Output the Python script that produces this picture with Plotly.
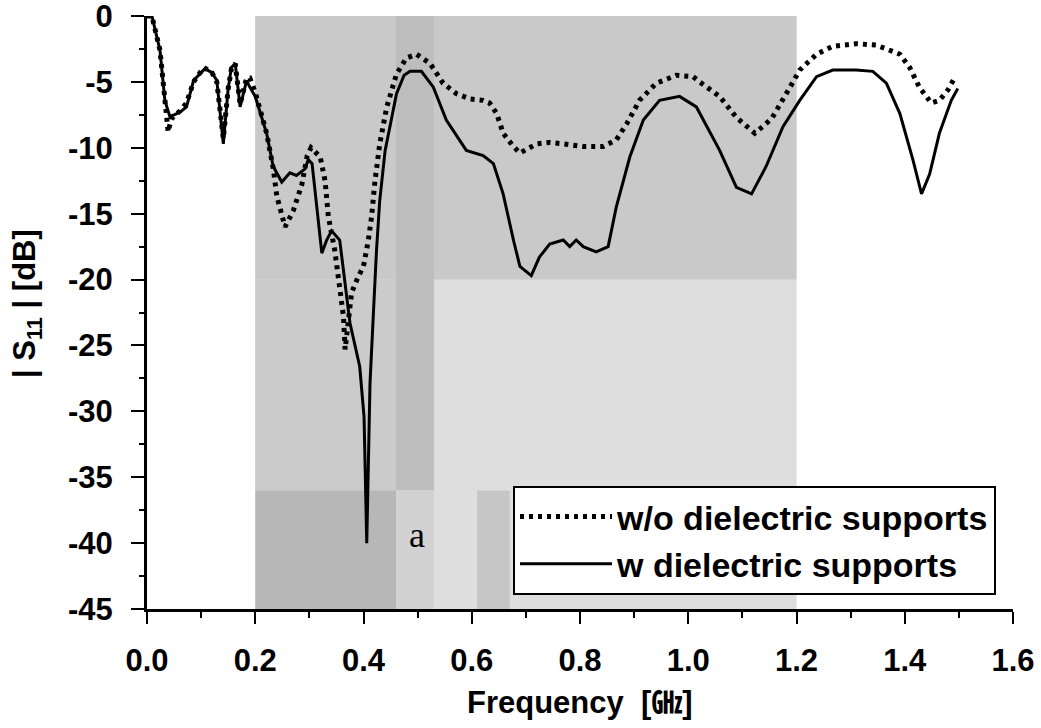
import plotly.graph_objects as go

# ---- data ----
freq_wo = [0.0, 0.009, 0.024, 0.033, 0.039, 0.045, 0.061, 0.073, 0.086, 0.105, 0.12, 0.129, 0.141, 0.150,
           0.156, 0.163, 0.172, 0.184, 0.19, 0.2, 0.221, 0.233, 0.24, 0.255, 0.27, 0.286, 0.296, 0.303,
           0.32, 0.329, 0.335, 0.347, 0.356, 0.363, 0.366, 0.372, 0.378, 0.39, 0.4, 0.409, 0.415, 0.421,
           0.43, 0.443, 0.461, 0.479, 0.498, 0.523, 0.547, 0.572, 0.597, 0.621, 0.633, 0.646, 0.658,
           0.677, 0.689, 0.72, 0.744, 0.769, 0.806, 0.843, 0.867, 0.886, 0.91, 0.941, 0.978, 1.009,
           1.021, 1.058, 1.089, 1.123, 1.154, 1.181, 1.206, 1.237, 1.267, 1.31, 1.347, 1.372, 1.391,
           1.409, 1.427, 1.449, 1.464, 1.48, 1.492]
s11_wo = [0.0, 0.0, -2.6, -6.6, -8.8, -7.8, -7.2, -6.6, -5.0, -3.9, -4.3, -5.0, -9.3, -5.5,
          -4.0, -3.6, -6.7, -4.7, -4.7, -5.8, -8.9, -11.5, -13.7, -16.0, -14.8, -12.8, -10.6, -10.0,
          -10.7, -12.5, -15.2, -17.8, -20.3, -22.8, -25.3, -23.0, -21.0, -19.8, -19.0, -17.0, -15.2, -12.6,
          -9.7, -6.9, -4.4, -3.2, -2.9, -3.6, -5.1, -5.9, -6.3, -6.4, -6.6, -7.4, -8.9,
          -9.9, -10.4, -9.7, -9.6, -9.7, -9.9, -9.9, -9.4, -8.2, -6.4, -5.1, -4.5, -4.6,
          -5.0, -6.1, -7.7, -8.9, -7.8, -5.9, -4.1, -2.9, -2.3, -2.1, -2.2, -2.6, -2.9,
          -3.9, -5.4, -6.6, -6.4, -5.6, -4.7]

freq_w = [0.0, 0.009, 0.024, 0.033, 0.042, 0.05, 0.061, 0.073, 0.086, 0.107, 0.12, 0.129, 0.141, 0.150,
          0.156, 0.163, 0.172, 0.184, 0.19, 0.2, 0.221, 0.233, 0.249, 0.264, 0.276, 0.292, 0.298,
          0.305, 0.323, 0.332, 0.341, 0.356, 0.375, 0.393, 0.401, 0.404, 0.406, 0.409, 0.412, 0.418,
          0.424, 0.43, 0.44, 0.461, 0.475, 0.486, 0.507, 0.529, 0.553, 0.59, 0.621, 0.64, 0.658,
          0.677, 0.689, 0.71, 0.725, 0.744, 0.769, 0.781, 0.793, 0.806, 0.83, 0.852, 0.867, 0.892,
          0.917, 0.947, 0.984, 1.015, 1.058, 1.089, 1.117, 1.144, 1.175, 1.206, 1.237, 1.267, 1.31,
          1.341, 1.366, 1.391, 1.415, 1.431, 1.446, 1.464, 1.486, 1.498]
s11_w = [0.0, 0.0, -2.6, -6.4, -7.6, -7.5, -7.3, -6.9, -4.9, -4.0, -4.3, -4.9, -9.7, -5.5,
         -3.9, -3.6, -6.9, -4.9, -5.4, -6.1, -8.9, -11.4, -12.6, -11.9, -12.1, -11.6, -10.9,
         -11.2, -18.0, -17.0, -16.3, -17.0, -23.3, -26.6, -30.4, -36.0, -40.0, -34.0, -27.9, -22.8,
         -17.8, -14.0, -10.2, -5.9, -4.5, -4.2, -4.2, -5.4, -7.9, -10.2, -10.6, -11.2, -13.5,
         -17.0, -19.0, -19.7, -18.3, -17.3, -17.0, -17.5, -17.0, -17.5, -17.9, -17.5, -14.5, -10.7,
         -7.9, -6.4, -6.1, -6.9, -10.2, -13.0, -13.5, -11.4, -8.4, -6.4, -4.6, -4.1, -4.1,
         -4.2, -5.1, -7.4, -10.9, -13.5, -12.0, -8.9, -6.4, -5.5]

series_names = ["w/o dielectric supports", "w dielectric supports"]
y_ticks = [0, -5, -10, -15, -20, -25, -30, -35, -40, -45]
y_ticktext = ["0", "-5", "-10", "-15", "-20", "-25", "-30", "-35", "-40", "-45"]
x_ticks = [0.0, 0.2, 0.4, 0.6, 0.8, 1.0, 1.2, 1.4, 1.6]
x_ticktext = ["0.0", "0.2", "0.4", "0.6", "0.8", "1.0", "1.2", "1.4", "1.6"]

FONT = "Liberation Sans, Arial, Noto Sans CJK JP, sans-serif"

fig = go.Figure()
fig.add_trace(go.Scatter(x=freq_wo, y=s11_wo, mode="lines", name=series_names[0],
                         line=dict(color="black", width=5, dash="4px,5px")))
fig.add_trace(go.Scatter(x=freq_w, y=s11_w, mode="lines", name=series_names[1],
                         line=dict(color="black", width=3)))

# background shading (grey regions of the scanned figure)
def rect(x0, x1, y0, y1, color):
    fig.add_shape(type="rect", xref="x", yref="y", x0=x0, x1=x1, y0=y0, y1=y1,
                  fillcolor=color, line=dict(width=0), layer="below")

rect(0.2, 1.2, -45, 0, "#dedede")
rect(0.2, 1.2, -20, 0, "#c9c9c9")
rect(0.2, 0.46, -36, -20, "#cbcbcb")
rect(0.2, 0.46, -45, -36, "#b7b7b7")
rect(0.46, 0.53, -36, 0, "#bdbdbd")
rect(0.46, 0.53, -45, -36, "#d2d2d2")
rect(0.61, 0.67, -45, -36, "#c6c6c6")

fig.add_annotation(x=0.498, y=-39.4, xref="x", yref="y", text="a", showarrow=False,
                   font=dict(family="Liberation Serif, Times New Roman, serif", size=36, color="black"))

# plot area in pixels, used to place the two axis titles
PL, PR, PT, PB = 147, 1013, 16, 609
def px_x(px):
    return (px - PL) / (PR - PL)
def px_y(py):
    return (PB - py) / (PB - PT)

fig.add_annotation(x=px_x(580), y=px_y(703), xref="paper", yref="paper", text="Frequency  [㎓]",
                   xanchor="center", yanchor="middle", showarrow=False,
                   font=dict(family=FONT, size=31, color="black", weight="bold"))
fig.add_annotation(x=px_x(27), y=px_y(304), xref="paper", yref="paper", text="| S<sub>11</sub> | [dB]",
                   xanchor="center", yanchor="middle", textangle=-90, showarrow=False,
                   font=dict(family=FONT, size=31, color="black", weight="bold"))

fig.update_layout(
    width=1041, height=728,
    margin=dict(l=PL, r=1041 - PR, t=PT, b=728 - PB, autoexpand=False),
    paper_bgcolor="white", plot_bgcolor="white",
    font=dict(family=FONT, color="black"),
    showlegend=True,
    legend=dict(x=px_x(513), y=px_y(486), xanchor="left", yanchor="top",
                bgcolor="white", bordercolor="black", borderwidth=2,
                font=dict(family=FONT, size=34, color="black", weight="bold"),
                itemwidth=92),
    xaxis=dict(range=[0, 1.6], tickvals=x_ticks, ticktext=x_ticktext, automargin=False,
               showgrid=False, zeroline=False, showline=True, linecolor="black", linewidth=3,
               ticks="outside", ticklen=12, tickwidth=2, tickcolor="black",
               ticklabelstandoff=10, ticklabeloverflow="allow",
               minor=dict(ticks="outside", ticklen=6, tickwidth=2, tickcolor="black", dtick=0.1),
               tickfont=dict(family=FONT, size=31, color="black", weight="bold")),
    yaxis=dict(range=[-45, 0], tickvals=y_ticks, ticktext=y_ticktext, automargin=False,
               showgrid=False, zeroline=False, showline=True, linecolor="black", linewidth=3,
               ticks="outside", ticklen=13, tickwidth=2, tickcolor="black",
               ticklabelstandoff=12, ticklabeloverflow="allow",
               minor=dict(ticks="outside", ticklen=5, tickwidth=2, tickcolor="black", dtick=2.5),
               tickfont=dict(family=FONT, size=31, color="black", weight="bold")),
)

# remove the browser's default 8px page margin so the figure sits at the window origin
fig.write_html("out.html", config={"displayModeBar": False},
               post_script="document.body.style.margin='0';")
